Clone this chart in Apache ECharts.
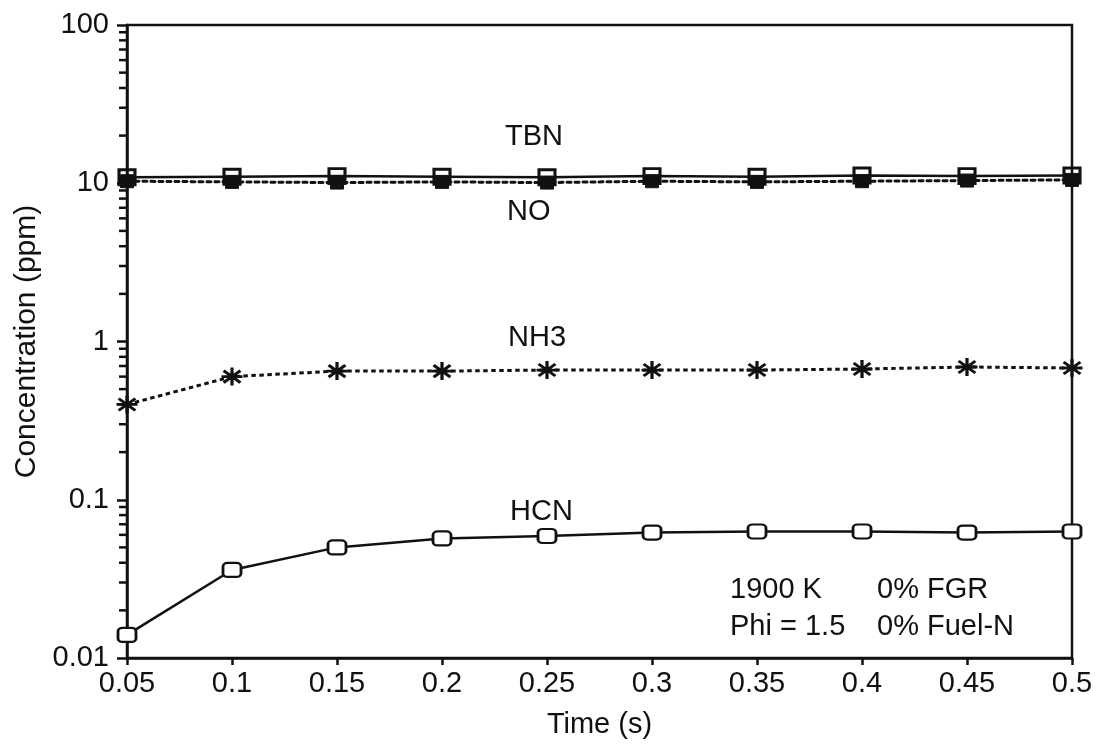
<!DOCTYPE html>
<html>
<head>
<meta charset="utf-8">
<script src="https://cdn.jsdelivr.net/npm/echarts@6/dist/echarts.min.js"></script>
<style>
  html, body { margin: 0; padding: 0; background: #fff; }
  #chart { width: 1101px; height: 744px; }
</style>
</head>
<body>
<div id="chart"></div>
<script>
// Residence time (s) and species concentrations (ppm)
const times = [0.05, 0.10, 0.15, 0.20, 0.25, 0.30, 0.35, 0.40, 0.45, 0.50];
const tbn = [10.9, 11.0, 11.1, 11.0, 10.9, 11.1, 11.0, 11.2, 11.1, 11.2];
const no  = [10.3, 10.2, 10.1, 10.2, 10.1, 10.3, 10.2, 10.3, 10.4, 10.5];
const nh3 = [0.40, 0.60, 0.65, 0.65, 0.66, 0.66, 0.66, 0.67, 0.69, 0.68];
const hcn = [0.014, 0.036, 0.050, 0.057, 0.059, 0.062, 0.063, 0.063, 0.062, 0.063];

const yTickValues = [0.01, 0.1, 1, 10, 100];
const yTickLabels = ['0.01', '0.1', '1', '10', '100'];
const xTickLabels = ['0.05', '0.1', '0.15', '0.2', '0.25', '0.3', '0.35', '0.4', '0.45', '0.5'];
const minorMultipliers = [2, 3, 4, 5, 6, 7, 8, 9];

// minor tick positions for each decade of the log axis
const minorTickValues = [];
for (let d = 0; d < yTickValues.length - 1; d++) {
  minorMultipliers.forEach(m => minorTickValues.push(+(yTickValues[d] * m).toPrecision(3)));
}

const FONT = '"Liberation Sans", Arial, Helvetica, sans-serif';
const FS = 29;
const INK = '#111';

const chart = echarts.init(document.getElementById('chart'), null, { renderer: 'canvas' });

function pair(values) { return times.map((t, i) => [t, values[i]]); }

const asterisk = 'path://M0,-9L0,9M-10,0L10,0M-8,-6L8,6M-8,6L8,-6';

function label(text, x, y) {
  return {
    type: 'text', x: x, y: y, z: 10,
    style: { text: text, font: FS + 'px ' + FONT, fill: INK, align: 'left', verticalAlign: 'middle' }
  };
}

chart.setOption({
  animation: false,
  backgroundColor: '#fff',
  grid: {
    left: 127, right: 29, top: 25, bottom: 82,
    show: true, borderColor: INK, borderWidth: 2.5, backgroundColor: 'transparent'
  },
  xAxis: {
    type: 'value', min: 0.05, max: 0.5, interval: 0.05,
    name: 'Time (s)', nameLocation: 'middle', nameGap: 52,
    nameTextStyle: { fontFamily: FONT, fontSize: FS, color: INK },
    axisLine: { show: true, lineStyle: { color: INK, width: 2.5 } },
    axisTick: { show: true, inside: false, length: 7, lineStyle: { color: INK, width: 2.5 } },
    axisLabel: {
      fontFamily: FONT, fontSize: FS, color: INK, margin: 11,
      formatter: v => xTickLabels[Math.round((v - 0.05) / 0.05)]
    },
    splitLine: { show: false }
  },
  yAxis: {
    type: 'log', logBase: 10, min: 0.01, max: 100,
    name: 'Concentration (ppm)', nameLocation: 'middle', nameGap: 84,
    nameTextStyle: { fontFamily: FONT, fontSize: 30, color: INK },
    axisLine: { show: true, lineStyle: { color: INK, width: 2.5 } },
    axisTick: { show: true, inside: false, length: 10, lineStyle: { color: INK, width: 2.5 } },
    axisLabel: {
      fontFamily: FONT, fontSize: FS, color: INK, margin: 18,
      formatter: v => {
        const k = yTickValues.findIndex(t => Math.abs(Math.log10(t) - Math.log10(v)) < 1e-6);
        return k >= 0 ? yTickLabels[k] : '';
      }
    },
    minorTick: { show: false },
    splitLine: { show: false }
  },
  series: [
    {
      name: 'NO', type: 'line', data: pair(no), clip: false,
      lineStyle: { color: INK, width: 3, type: [4, 4], cap: 'round' },
      symbol: 'rect', symbolSize: [13, 13],
      itemStyle: { color: INK, borderColor: INK, borderWidth: 1 }, z: 2
    },
    {
      name: 'TBN', type: 'line', data: pair(tbn), clip: false,
      lineStyle: { color: INK, width: 2.5, type: 'solid' },
      symbol: 'rect', symbolSize: [16, 15],
      itemStyle: { color: 'rgba(0,0,0,0)', borderColor: INK, borderWidth: 3 }, z: 3
    },
    {
      name: 'NH3', type: 'line', data: pair(nh3), clip: false,
      lineStyle: { color: INK, width: 3, type: [4.5, 3.5] },
      symbol: asterisk, symbolSize: [21, 18],
      itemStyle: { color: INK, borderColor: INK, borderWidth: 3 }
    },
    {
      name: 'HCN', type: 'line', data: pair(hcn), clip: false,
      lineStyle: { color: INK, width: 2.5, type: 'solid' },
      symbol: 'roundRect', symbolSize: [18, 14],
      itemStyle: { color: '#fff', borderColor: INK, borderWidth: 2.5 }
    },
    {
      // minor ticks of the logarithmic axis, drawn outward from the left axis
      name: 'minorTicks', type: 'custom', silent: true, clip: false,
      data: minorTickValues.map(v => [times[0], v]),
      renderItem: (params, api) => {
        const p = api.coord([api.value(0), api.value(1)]);
        return {
          type: 'line',
          shape: { x1: p[0] - 8, y1: p[1], x2: p[0], y2: p[1] },
          style: { stroke: INK, lineWidth: 2.5 }
        };
      }
    }
  ],
  graphic: [
    label('TBN', 505, 137),
    label('NO', 507, 212),
    label('NH3', 508, 338),
    label('HCN', 510, 512),
    label('1900 K', 730, 590),
    label('0% FGR', 877, 590),
    label('Phi = 1.5', 730, 627),
    label('0% Fuel-N', 877, 627)
  ]
});
</script>
</body>
</html>
